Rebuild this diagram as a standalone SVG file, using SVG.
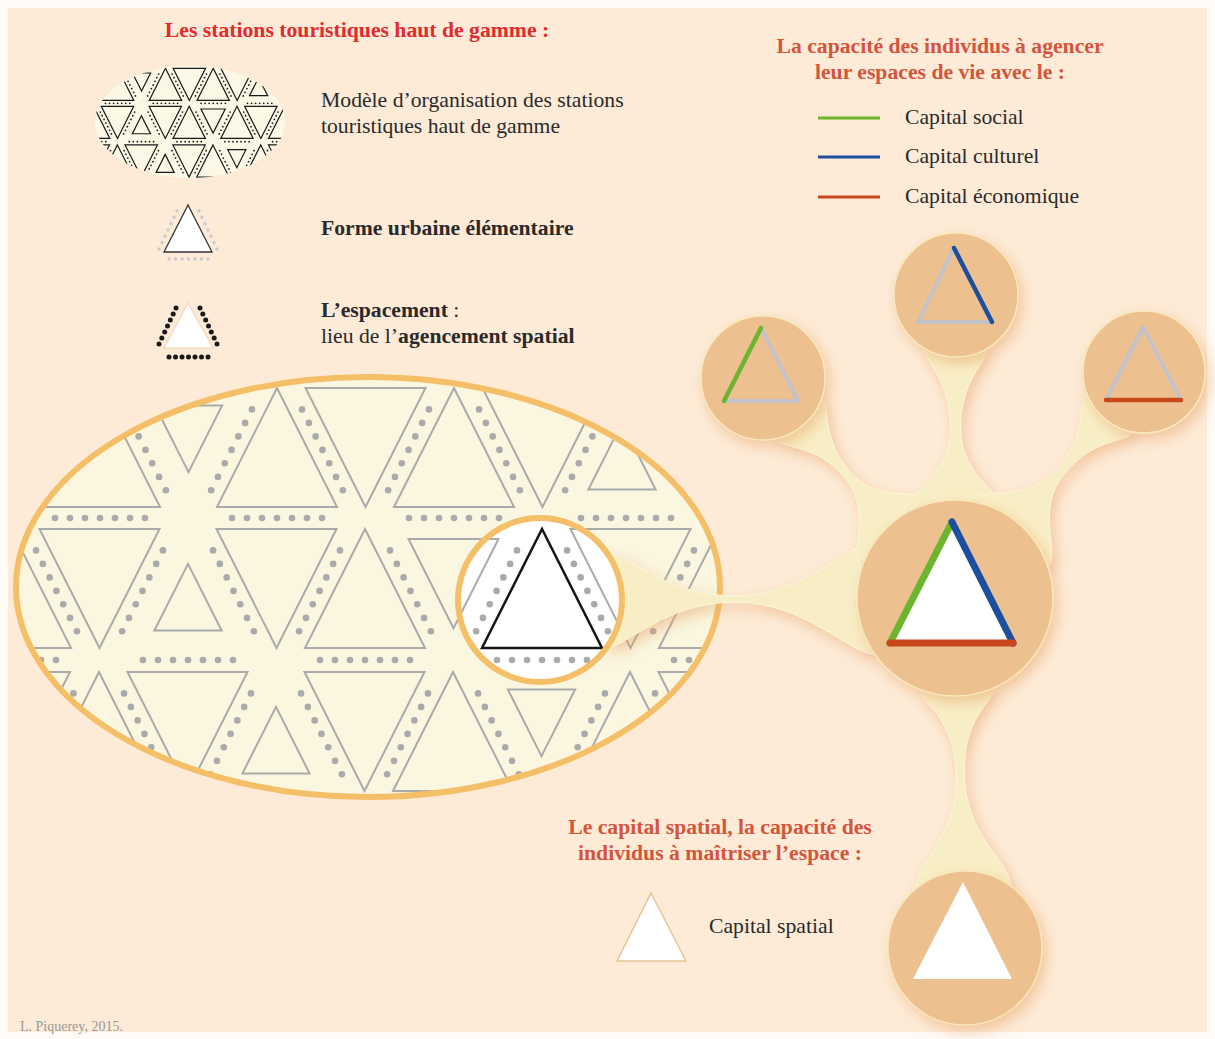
<svg xmlns="http://www.w3.org/2000/svg" width="1215" height="1039" viewBox="0 0 1215 1039">
<style>
.t{font-family:"Liberation Serif","Times New Roman",serif;font-size:21.7px;fill:#2a2a2a}
.b{font-weight:bold}
.red{fill:#e32a2c;font-weight:bold}
.or{fill:#d4553c;font-weight:bold}
.circ{fill:#ecc08f;stroke:#f9e8bb;stroke-width:1.5}
.conn{fill:#f8eec6;stroke:#fcf5da;stroke-width:1}
.gr{stroke:#c2c2c8;stroke-width:4;stroke-linecap:round;stroke-linejoin:round;fill:none}
.cap{stroke-width:7;stroke-linecap:round;fill:none}
.gdot{fill:#c9c9cf}
.kdot{fill:#1a1a1a}
</style>
<defs>
  <clipPath id="ce"><ellipse cx="368" cy="587" rx="350" ry="208"/></clipPath>
  <clipPath id="cl"><circle cx="540" cy="600" r="80"/></clipPath>
  <clipPath id="ci"><ellipse cx="190" cy="122" rx="95" ry="56"/></clipPath>
  <filter id="sh" x="-40%" y="-40%" width="180%" height="180%">
    <feGaussianBlur in="SourceAlpha" stdDeviation="7"/>
    <feOffset dx="4" dy="6" result="o"/>
    <feFlood flood-color="#e7a062" flood-opacity="0.5"/>
    <feComposite in2="o" operator="in"/>
    <feMerge><feMergeNode/><feMergeNode in="SourceGraphic"/></feMerge>
  </filter>
  <path id="tu" d="M0,0 L60,119 L-60,119 Z"/>
  <path id="td" d="M-60,0 L60,0 L0,119 Z"/>
  <path id="tus" d="M0,34.9 L33.6,101.5 L-33.6,101.5 Z"/>
  <path id="tds" d="M-33.6,17.5 L33.6,17.5 L0,84.1 Z"/>
  <path id="tdm" d="M-45,9.9 L45,9.9 L0,99.2 Z"/>
  <g id="dR"><circle cx="10.8" cy="21.4" r="3.3"/><circle cx="17.6" cy="34.9" r="3.3"/><circle cx="24.4" cy="48.4" r="3.3"/><circle cx="31.2" cy="61.9" r="3.3"/><circle cx="38" cy="75.3" r="3.3"/><circle cx="44.8" cy="88.9" r="3.3"/><circle cx="51.6" cy="102.3" r="3.3"/></g>
  <g id="dL"><circle cx="-10.8" cy="21.4" r="3.3"/><circle cx="-17.6" cy="34.9" r="3.3"/><circle cx="-24.4" cy="48.4" r="3.3"/><circle cx="-31.2" cy="61.9" r="3.3"/><circle cx="-38" cy="75.3" r="3.3"/><circle cx="-44.8" cy="88.9" r="3.3"/><circle cx="-51.6" cy="102.3" r="3.3"/></g>
  <g id="dH"><circle cx="-45" cy="0" r="3.3"/><circle cx="-30" cy="0" r="3.3"/><circle cx="-15" cy="0" r="3.3"/><circle cx="0" cy="0" r="3.3"/><circle cx="15" cy="0" r="3.3"/><circle cx="30" cy="0" r="3.3"/><circle cx="45" cy="0" r="3.3"/></g>
  <g id="pat">
    <g fill="none" stroke="currentColor">
      <use href="#td" x="11.5" y="388"/><use href="#tu" x="100" y="388"/><use href="#tds" x="188.5" y="388"/><use href="#tu" x="277" y="388"/><use href="#td" x="365.5" y="388"/><use href="#tu" x="454" y="388"/><use href="#td" x="542.5" y="388"/><use href="#tus" x="622" y="388"/>
      <use href="#tu" x="11" y="529"/><use href="#td" x="99.5" y="529"/><use href="#tus" x="188" y="529"/><use href="#td" x="276.5" y="529"/><use href="#tu" x="365" y="529"/><use href="#tdm" x="453.5" y="529"/><use href="#tu" x="542" y="529"/><use href="#td" x="630.5" y="529"/><use href="#tu" x="719" y="529"/>
      <use href="#td" x="10" y="672"/><use href="#tu" x="99" y="672"/><use href="#td" x="187.5" y="672"/><use href="#tus" x="276" y="672"/><use href="#td" x="364.5" y="672"/><use href="#tu" x="453" y="672"/><use href="#tds" x="541.5" y="672"/><use href="#tu" x="630" y="672"/><use href="#td" x="718.5" y="672"/>
    </g>
    <g fill="currentColor" stroke="none">
      <use href="#dL" x="85.75" y="388"/><use href="#dR" x="114.25" y="388"/><use href="#dL" x="262.75" y="388"/><use href="#dR" x="291.25" y="388"/><use href="#dL" x="439.75" y="388"/><use href="#dR" x="468.25" y="388"/><use href="#dL" x="616.75" y="388"/><use href="#dR" x="645.25" y="388"/>
      <use href="#dR" x="25.25" y="529"/><use href="#dL" x="173.75" y="529"/><use href="#dR" x="202.25" y="529"/><use href="#dL" x="350.75" y="529"/><use href="#dR" x="379.25" y="529"/><use href="#dL" x="527.75" y="529"/><use href="#dR" x="556.25" y="529"/><use href="#dL" x="704.75" y="529"/>
      <use href="#dL" x="84.25" y="672"/><use href="#dR" x="113.25" y="672"/><use href="#dL" x="261.75" y="672"/><use href="#dR" x="290.25" y="672"/><use href="#dL" x="438.75" y="672"/><use href="#dR" x="467.25" y="672"/><use href="#dL" x="615.75" y="672"/><use href="#dR" x="644.25" y="672"/>
      <use href="#dH" x="100" y="518"/><use href="#dH" x="277" y="518"/><use href="#dH" x="454" y="518"/><use href="#dH" x="626" y="518"/>
      <use href="#dH" x="11" y="660"/><use href="#dH" x="188" y="660"/><use href="#dH" x="365" y="660"/><use href="#dH" x="542" y="660"/><use href="#dH" x="719" y="660"/>
    </g>
  </g>
</defs>

<rect width="1215" height="1039" fill="#fefaf5"/>
<rect x="8" y="8" width="1199" height="1024" fill="#fdebd7"/>

<!-- Legend, top left -->
<g id="legend-stations">
  <text class="t red" x="357" y="37" text-anchor="middle">Les stations touristiques haut de gamme :</text>
  <g id="icon-model">
    <ellipse cx="190" cy="122" rx="95" ry="56" fill="#fcf8e6"/>
    <g clip-path="url(#ci)">
      <use href="#pat" color="#1a1a1a" stroke-width="4.5" transform="translate(190,122) scale(0.27) translate(-368,-587)"/>
    </g>
  </g>
  <text class="t" x="321" y="107">Modèle d’organisation des stations</text>
  <text class="t" x="321" y="133">touristiques haut de gamme</text>
  <g id="icon-forme">
    <g class="gdot">
      <circle cx="177" cy="211" r="1.7"/><circle cx="174" cy="217.3" r="1.7"/><circle cx="171" cy="223.7" r="1.7"/><circle cx="168" cy="230" r="1.7"/><circle cx="165" cy="236.3" r="1.7"/><circle cx="162" cy="242.7" r="1.7"/><circle cx="159" cy="249" r="1.7"/>
      <circle cx="199" cy="211" r="1.7"/><circle cx="202" cy="217.3" r="1.7"/><circle cx="205" cy="223.7" r="1.7"/><circle cx="208" cy="230" r="1.7"/><circle cx="211" cy="236.3" r="1.7"/><circle cx="214" cy="242.7" r="1.7"/><circle cx="217" cy="249" r="1.7"/>
      <circle cx="169" cy="259" r="1.7"/><circle cx="175.5" cy="259" r="1.7"/><circle cx="182" cy="259" r="1.7"/><circle cx="188.5" cy="259" r="1.7"/><circle cx="195" cy="259" r="1.7"/><circle cx="201.5" cy="259" r="1.7"/><circle cx="208" cy="259" r="1.7"/>
    </g>
    <path d="M188,205 L212,252 L164,252 Z" fill="#fff" stroke="#333" stroke-width="1.3"/>
  </g>
  <text class="t b" x="321" y="235">Forme urbaine élémentaire</text>
  <g id="icon-espacement">
    <path d="M188,303 L213,348 L164,348 Z" fill="#fff" stroke="#f2dcc2" stroke-width="1.5"/>
    <g class="kdot">
      <circle cx="176" cy="308" r="2.5"/><circle cx="173.2" cy="314" r="2.5"/><circle cx="170.3" cy="320" r="2.5"/><circle cx="167.5" cy="326" r="2.5"/><circle cx="164.7" cy="332" r="2.5"/><circle cx="161.8" cy="338" r="2.5"/><circle cx="159" cy="344" r="2.5"/>
      <circle cx="200" cy="308" r="2.5"/><circle cx="202.8" cy="314" r="2.5"/><circle cx="205.7" cy="320" r="2.5"/><circle cx="208.5" cy="326" r="2.5"/><circle cx="211.3" cy="332" r="2.5"/><circle cx="214.2" cy="338" r="2.5"/><circle cx="217" cy="344" r="2.5"/>
      <circle cx="169" cy="357" r="2.5"/><circle cx="175.5" cy="357" r="2.5"/><circle cx="182" cy="357" r="2.5"/><circle cx="188.5" cy="357" r="2.5"/><circle cx="195" cy="357" r="2.5"/><circle cx="201.5" cy="357" r="2.5"/><circle cx="208" cy="357" r="2.5"/>
    </g>
  </g>
  <text class="t" x="321" y="317"><tspan class="b">L’espacement</tspan> :</text>
  <text class="t" x="321" y="343">lieu de l’<tspan class="b">agencement spatial</tspan></text>
</g>

<!-- Legend, top right -->
<g id="legend-capitaux">
  <text class="t or" x="940" y="53" text-anchor="middle">La capacité des individus à agencer</text>
  <text class="t or" x="940" y="79" text-anchor="middle">leur espaces de vie avec le :</text>
  <line x1="818" y1="118" x2="880" y2="118" stroke="#6cb52d" stroke-width="3"/>
  <line x1="818" y1="157" x2="880" y2="157" stroke="#1d4f9e" stroke-width="3"/>
  <line x1="818" y1="197" x2="880" y2="197" stroke="#c8461b" stroke-width="3"/>
  <text class="t" x="905" y="124">Capital social</text>
  <text class="t" x="905" y="163">Capital culturel</text>
  <text class="t" x="905" y="203">Capital économique</text>
</g>

<!-- Big ellipse -->
<g id="node-station">
  <ellipse cx="368" cy="587" rx="352" ry="210" fill="#faf6df"/>
  <g clip-path="url(#ce)">
    <use href="#pat" color="#aaaaaa" stroke-width="2"/>
  </g>
  <ellipse cx="368" cy="587" rx="352" ry="210" fill="none" stroke="#f5bf68" stroke-width="6"/>
</g>

<!-- Connectors -->
<g id="connectors" class="conn" filter="url(#sh)">
  <path d="M607.2,647 C627.2,647 665,602 735,602 C805,602 849.7,654.2 874.7,654.2 L874.7,541.8 C849.7,541.8 805,596 735,596 C665,596 627.2,553 607.2,553 Z"/>
  <path d="M774.9,438.9 C784.8,450.2 814,442.3 844.2,477 C874.4,511.7 848.1,554.4 861.3,569.5 L939.5,501.3 C926.3,486.2 880.4,506.5 850.2,471.8 C820,437.1 831.6,409.4 821.7,398.1 Z"/>
  <path d="M925,348.7 C925,363.7 950.5,378.5 950.5,428.5 C950.5,478.5 903.1,494.9 903.1,514.9 L1006.9,514.9 C1006.9,494.9 960.5,478.5 960.5,428.5 C960.5,378.5 987,363.7 987,348.7 Z"/>
  <path d="M1086.7,392.9 C1077.1,404.4 1088.5,432.1 1058.3,468.2 C1028.1,504.3 981.3,485.7 968.5,501 L1048.1,567.6 C1060.9,552.3 1034.3,509.5 1064.5,473.4 C1094.7,437.3 1123.9,443.6 1133.5,432.1 Z"/>
  <path d="M921,690 C921.5,705 954.5,715.1 956.3,776.1 C958.1,837.1 915.1,863.7 915.8,888.7 L1010.6,885.9 C1009.9,860.9 966.1,836.9 964.3,775.9 C962.5,714.9 993.9,702.8 994.4,687.8 Z"/>
</g>

<!-- Lens on the elementary form -->
<g id="node-lens">
  <circle cx="540" cy="600" r="82" fill="#fff"/>
  <g clip-path="url(#cl)">
    <use href="#pat" color="#aaaaaa" stroke-width="2"/>
  </g>
  <path d="M542,529 L602,648 L482,648 Z" fill="#fff" stroke="#151515" stroke-width="2.5" stroke-linejoin="miter"/>
  <circle cx="540" cy="600" r="82" fill="none" stroke="#f5bf68" stroke-width="6"/>
</g>

<g filter="url(#sh)">
  <g id="node-social">
    <circle class="circ" cx="763" cy="378" r="62"/>
    <path class="gr" d="M761,328 L798,401 L724,401"/>
    <line x1="724" y1="401" x2="761" y2="328" stroke="#6cb52d" stroke-width="4.5" stroke-linecap="round"/>
  </g>
  <g id="node-culturel">
    <circle class="circ" cx="956" cy="295" r="62"/>
    <path class="gr" d="M954,248 L918,322 L992,322"/>
    <line x1="954" y1="248" x2="992" y2="322" stroke="#1d4f9e" stroke-width="4.5" stroke-linecap="round"/>
  </g>
  <g id="node-economique">
    <circle class="circ" cx="1144" cy="372" r="61"/>
    <path class="gr" d="M1106,400 L1143,327 L1181,400"/>
    <line x1="1106" y1="400" x2="1181" y2="400" stroke="#c8461b" stroke-width="4.5" stroke-linecap="round"/>
  </g>
  <g id="node-central">
    <circle class="circ" cx="955" cy="598" r="98"/>
    <path d="M952,522 L1013,643 L890,643 Z" fill="#fff"/>
    <line class="cap" x1="890" y1="643" x2="952" y2="522" stroke="#6cb52d"/>
    <line class="cap" x1="952" y1="522" x2="1013" y2="643" stroke="#1d4f9e"/>
    <line class="cap" x1="890" y1="643" x2="1013" y2="643" stroke="#c8461b"/>
  </g>
  <g id="node-spatial">
    <circle class="circ" cx="965" cy="948" r="77"/>
    <path d="M963,882 L1012,979 L913,979 Z" fill="#fff"/>
  </g>
</g>

<!-- Legend, bottom -->
<g id="legend-spatial">
  <text class="t or" x="720" y="834" text-anchor="middle">Le capital spatial, la capacité des</text>
  <text class="t or" x="720" y="860" text-anchor="middle">individus à maîtriser l’espace :</text>
  <path d="M651,893 L686,961 L617,961 Z" fill="#fff" stroke="#e5c596" stroke-width="1.5"/>
  <text class="t" x="709" y="933">Capital spatial</text>
</g>

<text x="20" y="1031" font-family="Liberation Serif, Times New Roman, serif" font-size="14" fill="#999">L. Piquerey, 2015.</text>
</svg>
